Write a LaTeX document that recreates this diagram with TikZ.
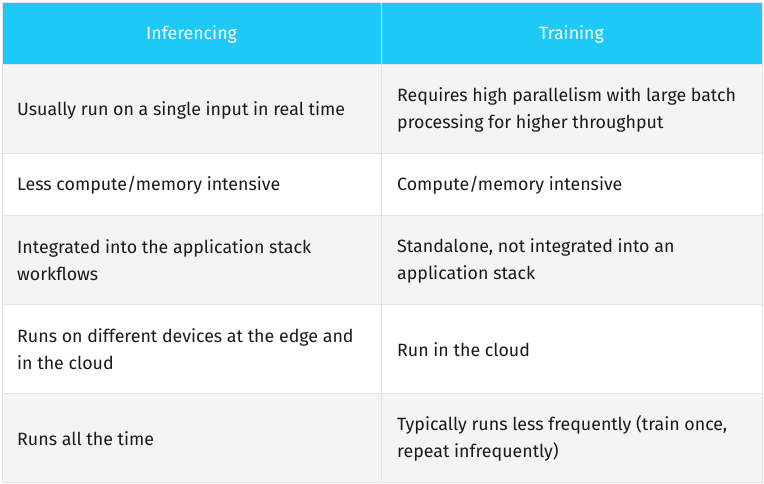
\documentclass[tikz,border=0pt]{standalone}
\usepackage{fontspec}
\setmainfont{Fira Sans}
\definecolor{head}{HTML}{1FC9F7}
\definecolor{rowg}{HTML}{F4F4F4}
\definecolor{rule}{HTML}{E3E3E3}
\definecolor{txt}{HTML}{1A1A1A}
\begin{document}
\begin{tikzpicture}[x=1pt,y=-1pt,
  cell/.style={anchor=west,align=left,text=txt,font=\fontsize{17.8}{27}\selectfont,inner sep=0pt},
  hcell/.style={text=white,font=\fontsize{17.8}{22}\selectfont,inner sep=0pt}]
\useasboundingbox (0,0) rectangle (764,484);
\fill[white] (0,0) rectangle (764,484);
\fill[head] (2,2) rectangle (762,64);
\fill[rowg] (2,64) rectangle (762,153);
\fill[rowg] (2,215) rectangle (762,304);
\fill[rowg] (2,393) rectangle (762,482);
\draw[rule] (2,2) rectangle (762,482);
\foreach \y in {64,153,215,304,393} \draw[rule] (2,\y) -- (762,\y);
\draw[rule] (381,64) -- (381,482);
\draw[white!80!head] (381,2) -- (381,64);
\node[hcell] (h1) at (191.5,34) {Inferencing};
\node[hcell] (h2) at (571.5,34) {Training};
\node[cell] (a1) at (17,110) {Usually run on a single input in real time};
\node[cell] (b1) at (397,110) {Requires high parallelism with large batch\\processing for higher throughput};
\node[cell] (a2) at (17,185) {Less compute/memory intensive};
\node[cell] (b2) at (397,185) {Compute/memory intensive};
\node[cell] (a3) at (17,260.5) {Integrated into the application stack\\workflows};
\node[cell] (b3) at (397,260.5) {Standalone, not integrated into an\\application stack};
\node[cell] (a4) at (17,349.5) {Runs on different devices at the edge and\\in the cloud};
\node[cell] (b4) at (397,349.5) {Run in the cloud};
\node[cell] (a5) at (17,438.5) {Runs all the time};
\node[cell] (b5) at (397,438.5) {Typically runs less frequently (train once,\\repeat infrequently)};
\end{tikzpicture}
\end{document}
